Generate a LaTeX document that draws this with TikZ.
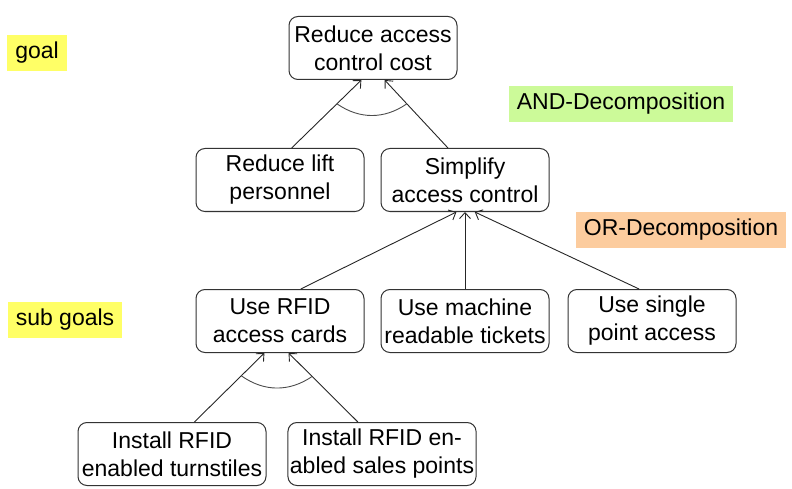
\documentclass[tikz,border=0pt]{standalone}
\usepackage{fontspec}
\setmainfont{Liberation Sans}
\usetikzlibrary{shapes,arrows.meta}
\definecolor{goalyellow}{RGB}{255,255,102}
\definecolor{andgreen}{RGB}{204,250,153}
\definecolor{orpeach}{RGB}{252,204,158}

\begin{document}
\begin{tikzpicture}[x=1pt,y=1pt]
			\tikzset{every node/.style={font=\fontsize{23}{28}\selectfont}}
			
			\tikzset{goalbox/.style = {shape=rectangle,draw=black!80,line width=1pt,rounded corners=9pt,align=center,minimum width=168pt,minimum height=63pt,inner sep=2pt}}
			
			\tikzset{note/.style = {shape=rectangle,inner xsep=8pt,minimum height=36pt}}
			
			\tikzset{edge/.style = {line width=0.9pt,draw=black!85,-{Straight Barb[length=6pt,width=11pt]}}}
			
			\useasboundingbox (0,0) rectangle (792,-489);
			
			% goals
			
			\node[goalbox] (rc) at (373,-48) {Reduce access\\control cost};
			
			\node[goalbox] (rl) at (280,-180) {Reduce lift\\personnel};
			
			\node[goalbox] (sa) at (465,-180) {Simplify\\access control};
			
			\node[goalbox] (rfid) at (280,-321) {Use RFID\\access cards};
			
			\node[goalbox] (mrt) at (465,-321) {Use machine\\readable tickets};
			
			\node[goalbox] (spa) at (652,-321) {Use single\\point access};
			
			\node[goalbox,minimum width=188pt] (tst) at (172,-454) {Install RFID\\enabled turnstiles};
			
			\node[goalbox,minimum width=188pt] (sal) at (382,-454) {Install RFID en-\\abled sales points};
			
			% notes
			
			\node[note,fill=goalyellow] (goal) at (37,-53) {goal};
			
			\node[note,fill=goalyellow] (sub) at (65,-320) {sub goals};
			
			\node[note,fill=andgreen] (and) at (621,-104) {AND-Decomposition};
			
			\node[note,fill=orpeach] (or) at (681,-230) {OR-Decomposition};
			
			%edges
			
			\draw[edge] (rl.70) -- (rc.250);
			\draw[edge] (sa.118) -- (rc.290);
			\path (rl.70) -- coordinate[pos=0.65] (and1) (rc.250);
			\path (sa.118) -- coordinate[pos=0.65] (and2) (rc.290);
			\draw[line width=0.9pt,draw=black!70] (and1) to[bend right=35] (and2);
			
			\draw[edge] (rfid.57) -- (sa.255);
			\draw[edge] (mrt.north) -- (sa.south);
			\draw[edge] (spa.112) -- (sa.287);
			
			\draw[edge] (tst.55) -- (rfid.244);
			\draw[edge] (sal.127) -- (rfid.285);
			\path (tst.55) -- coordinate[pos=0.67] (and3) (rfid.244);
			\path (sal.127) -- coordinate[pos=0.66] (and4) (rfid.285);
			\draw[line width=0.9pt,draw=black!70] (and3) to[bend right=35] (and4);
			\end{tikzpicture}
\end{document}
